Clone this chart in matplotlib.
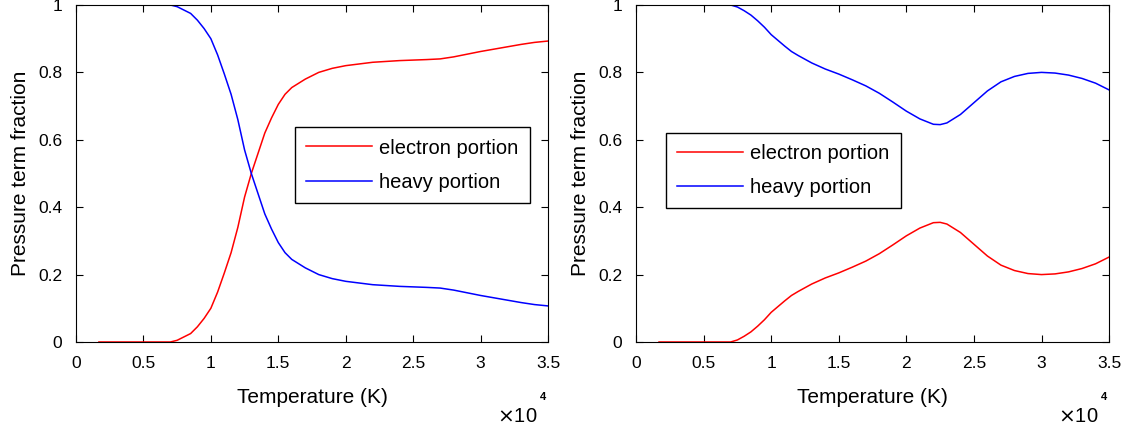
import matplotlib
matplotlib.use('Agg')
import matplotlib.pyplot as plt
from matplotlib.ticker import FuncFormatter

# temperatures in K
t_left = [1700, 3000, 5000, 7000, 7500, 8000, 8500, 9000, 9500, 10000, 10500, 11000,
          11500, 12000, 12500, 13000, 13500, 14000, 14500, 15000, 15500, 16000,
          17000, 18000, 19000, 20000, 22000, 24000, 26000, 27000, 28000, 29000,
          30000, 31000, 32000, 33000, 34000, 35000]
electron_left = [0.0, 0.0, 0.0, 0.0, 0.005, 0.015, 0.025, 0.045, 0.07, 0.10, 0.148, 0.205,
                 0.265, 0.34, 0.43, 0.50, 0.56, 0.62, 0.665, 0.705, 0.735, 0.755,
                 0.78, 0.80, 0.812, 0.82, 0.83, 0.835, 0.838, 0.84, 0.846, 0.854,
                 0.862, 0.869, 0.876, 0.883, 0.889, 0.893]
heavy_left = [1.0, 1.0, 1.0, 1.0, 0.995, 0.985, 0.975, 0.955, 0.93, 0.90, 0.852, 0.795,
              0.735, 0.66, 0.57, 0.50, 0.44, 0.38, 0.335, 0.295, 0.265, 0.245,
              0.22, 0.20, 0.188, 0.18, 0.17, 0.165, 0.162, 0.16, 0.154, 0.146,
              0.138, 0.131, 0.124, 0.117, 0.111, 0.107]

t_right = [1700, 3000, 5000, 7000, 7500, 8000, 8500, 9000, 9500, 10000, 10500, 11000,
           11500, 12000, 13000, 14000, 15000, 16000, 17000, 18000, 19000, 20000,
           21000, 22000, 22500, 23000, 24000, 25000, 26000, 27000, 28000, 29000,
           30000, 31000, 32000, 33000, 34000, 35000]
electron_right = [0.0, 0.0, 0.0, 0.0, 0.006, 0.017, 0.03, 0.047, 0.066, 0.088, 0.105, 0.122,
                  0.138, 0.15, 0.172, 0.19, 0.205, 0.222, 0.24, 0.262, 0.288, 0.315,
                  0.338, 0.354, 0.355, 0.35, 0.325, 0.29, 0.255, 0.228, 0.212, 0.203,
                  0.20, 0.202, 0.208, 0.218, 0.232, 0.252]
heavy_right = [1.0, 1.0, 1.0, 1.0, 0.994, 0.983, 0.97, 0.953, 0.934, 0.912, 0.895, 0.878,
               0.862, 0.85, 0.828, 0.81, 0.795, 0.778, 0.76, 0.738, 0.712, 0.685,
               0.662, 0.646, 0.645, 0.65, 0.675, 0.71, 0.745, 0.772, 0.788, 0.797,
               0.80, 0.798, 0.792, 0.782, 0.768, 0.748]

xticks = [0, 5000, 10000, 15000, 20000, 25000, 30000, 35000]
yticks = [0, 0.2, 0.4, 0.6, 0.8, 1]

plt.rcParams['font.family'] = 'Liberation Sans'
fig = plt.figure(figsize=(11.36, 4.3), dpi=100)
ax1 = fig.add_axes([0.0669, 0.2047, 0.4155, 0.7837])
ax2 = fig.add_axes([0.5599, 0.2047, 0.4164, 0.7837])

panels = [(ax1, t_left, electron_left, heavy_left, (0.712, 0.525)),
          (ax2, t_right, electron_right, heavy_right, (0.311, 0.509))]

def fmt(v, pos):
    return ('%g' % (v / 1e4))

for ax, t, e, h, lpos in panels:
    ax.plot(t, e, color='red', linewidth=1.1, label='electron portion')
    ax.plot(t, h, color='blue', linewidth=1.1, label='heavy portion')
    ax.set_xlim(0, 35000)
    ax.set_ylim(0, 1)
    ax.set_xticks(xticks)
    ax.set_yticks(yticks)
    ax.xaxis.set_major_formatter(FuncFormatter(fmt))
    ax.yaxis.set_major_formatter(FuncFormatter(lambda v, p: '%g' % v))
    ax.tick_params(direction='in', top=True, right=True, length=5, width=0.8,
                   labelsize=12.5, pad=10)
    for s in ax.spines.values():
        s.set_linewidth(0.8)
    ax.set_xlabel('Temperature (K)', fontsize=15, labelpad=12)
    ax.set_ylabel('Pressure term fraction', fontsize=15, labelpad=6)
    leg = ax.legend(loc='center', bbox_to_anchor=lpos, fontsize=14.5,
                    fancybox=False, framealpha=1, edgecolor='black',
                    handlelength=3.3, handletextpad=0.35, borderpad=0.55,
                    labelspacing=0.75, borderaxespad=0)
    leg.get_frame().set_linewidth(1.0)
    ax.text(0.977, -0.237, r'$\times$10', transform=ax.transAxes,
            ha='right', va='baseline', fontsize=14.5)
    ax.text(0.983, -0.172, '4', transform=ax.transAxes,
            ha='left', va='baseline', fontsize=8, fontweight='bold')

fig.savefig('out.png', dpi=100)
